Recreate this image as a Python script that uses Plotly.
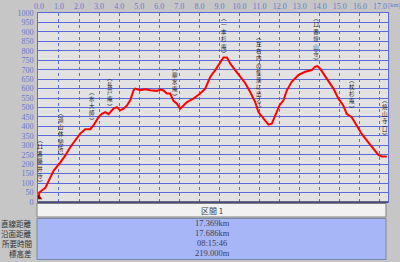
import plotly.graph_objects as go

# ---------------- data ----------------
dist_km = [0.00, 0.02, 0.32, 0.48, 0.73, 1.07, 1.31, 1.56, 1.81, 2.06, 2.31, 2.56, 2.72, 2.97,
           3.14, 3.31, 3.47, 3.72, 3.89, 4.05, 4.22, 4.39, 4.55, 4.72, 4.80, 5.05, 5.30, 5.55,
           5.88, 6.05, 6.21, 6.38, 6.54, 6.71, 6.88, 7.04, 7.21, 7.38, 7.70, 8.04, 8.29, 8.54,
           8.79, 9.03, 9.20, 9.37, 9.53, 9.78, 10.03, 10.28, 10.53, 10.78, 10.94, 11.19, 11.44,
           11.61, 11.77, 11.99, 12.19, 12.36, 12.60, 12.93, 13.27, 13.60, 13.76, 13.88, 14.01,
           14.35, 14.68, 14.93, 15.17, 15.34, 15.59, 15.84, 16.09, 16.42, 16.67, 16.92, 17.09, 17.34]
elev_m = [23, 50, 75, 112, 165, 210, 245, 290, 325, 362, 385, 385, 405, 449,
          467, 476, 465, 494, 502, 485, 494, 511, 538, 591, 600, 591, 597, 591,
          588, 595, 590, 574, 574, 535, 520, 494, 511, 529, 547, 574, 600, 662,
          698, 734, 765, 765, 734, 698, 665, 630, 582, 529, 476, 440, 409,
          414, 458, 511, 538, 591, 636, 671, 689, 698, 715, 719, 707,
          654, 600, 547, 511, 467, 449, 405, 360, 316, 281, 249, 241, 241]

x_ticks = list(range(0, 18))
y_ticks = list(range(0, 1001, 50))

label_texts = ["(11番藤井寺)", "(嶺山休憩所)", "(水大師)", "(長戸庵)", "(柳水庵)",
               "(一本杉庵)", "(左右内の集落に出る)", "(12番焼山寺)", "(杖杉庵)", "(焼山寺口)"]
label_km = [0.07, 1.10, 2.64, 3.56, 6.79, 9.23, 10.99, 13.81, 15.62, 17.25]
label_top_m = [352, 500, 610, 685, 735, 1000, 900, 1000, 672, 565]

section_title = "区間 1"
row_labels = ["直線距離", "沿面距離", "所要時間", "標高差"]
row_values = ["17.369km", "17.686km", "08:15:46", "219.000m"]

# ---------------- styles / layout helpers ----------------
W, H = 400, 262
ML, MR, MT, MB = 38, 12, 13, 60
PW, PH = W - ML - MR, H - MT - MB

def px(xp):
    return (xp - ML) / PW

def py(yp):
    return (H - MB - yp) / PH

OUTER_BG = "#c6c6c6"
PLOT_BG = "#e2e2e2"
GRID = "#5a6ad8"
TICK = "#6878d0"
BLUE_ROW = "#a6b6f6"
JP = "Noto Sans CJK JP"
NUM = "Liberation Serif"

fig = go.Figure()
fig.add_trace(go.Scatter(x=dist_km, y=elev_m, mode="lines",
                         line=dict(color="#ff0000", width=2), hoverinfo="skip"))
fig.add_trace(go.Scatter(x=dist_km[:1], y=elev_m[:1], mode="markers",
                         marker=dict(symbol="triangle-up", size=6, color="#8a0000"),
                         hoverinfo="skip"))

annotations = []

def vertical(text):
    items, buf = [], ""
    for ch in text:
        if ch.isdigit():
            buf += ch
            continue
        if buf:
            items.append(buf)
            buf = ""
        if ch == "(":
            items.append("︵")
        elif ch == ")":
            items.append("︶")
        else:
            items.append(ch)
    if buf:
        items.append(buf)
    return "<br>".join(items)

for t, xk, top in zip(label_texts, label_km, label_top_m):
    annotations.append(dict(x=xk, y=top, xref="x", yref="y", text=vertical(t),
                            showarrow=False, xanchor="center", yanchor="top",
                            borderpad=0, align="center",
                            font=dict(family=JP, size=5.5, color="#202020")))

annotations.append(dict(x=px(387), y=py(5), xref="paper", yref="paper", text="[km]",
                        showarrow=False, xanchor="left", yanchor="middle", borderpad=0,
                        font=dict(family=NUM, size=6.5, color=TICK)))

# table texts
annotations.append(dict(x=px(212), y=py(210.5), xref="paper", yref="paper", text=section_title,
                        showarrow=False, xanchor="center", yanchor="middle",
                        font=dict(family=JP, size=8, color="#404040")))
row_y = [223, 233, 243, 253]
for lab, val, ry in zip(row_labels, row_values, row_y):
    annotations.append(dict(x=px(33), y=py(ry), xref="paper", yref="paper", text=lab,
                            showarrow=False, xanchor="right", yanchor="middle", borderpad=0,
                            font=dict(family=JP, size=7.5, color="#303030")))
    annotations.append(dict(x=px(212), y=py(ry), xref="paper", yref="paper", text=val,
                            showarrow=False, xanchor="center", yanchor="middle", borderpad=0,
                            font=dict(family=NUM, size=8.5, color="#404050")))

shapes = [
    dict(type="rect", xref="paper", yref="paper", x0=px(37), x1=px(386), y0=py(203.5), y1=py(217),
         fillcolor="#f2f2f2", line=dict(color="#808080", width=1), layer="above"),
    dict(type="rect", xref="paper", yref="paper", x0=px(37), x1=px(386), y0=py(218.5), y1=py(259.5),
         fillcolor=BLUE_ROW, line=dict(color="#7c86a8", width=1), layer="above"),
    dict(type="line", xref="paper", yref="paper", x0=0, x1=1, y0=0, y1=0,
         line=dict(color="#404060", width=1.5)),
]

fig.update_layout(
    width=W, height=H,
    margin=dict(l=ML, r=MR, t=MT, b=MB, autoexpand=False),
    paper_bgcolor=OUTER_BG, plot_bgcolor=PLOT_BG,
    showlegend=False,
    annotations=annotations, shapes=shapes,
    xaxis=dict(range=[-0.045, 17.40], tickvals=x_ticks, tickformat=".1f", side="top",
               showgrid=True, gridcolor=GRID, gridwidth=1, griddash="dot",
               showline=True, linecolor=GRID, linewidth=1, mirror=True,
               zeroline=False, ticks="", ticklabelstandoff=0, automargin=False,
               tickfont=dict(family=NUM, size=8, color=TICK), fixedrange=True),
    yaxis=dict(range=[0, 1000], tickvals=y_ticks,
               showgrid=True, gridcolor=GRID, gridwidth=1,
               showline=True, linecolor=GRID, linewidth=1, mirror=True,
               zeroline=False, ticks="", ticklabelstandoff=2, automargin=False,
               tickfont=dict(family=NUM, size=8, color=TICK), fixedrange=True),
)

fig.write_html("out.html")
